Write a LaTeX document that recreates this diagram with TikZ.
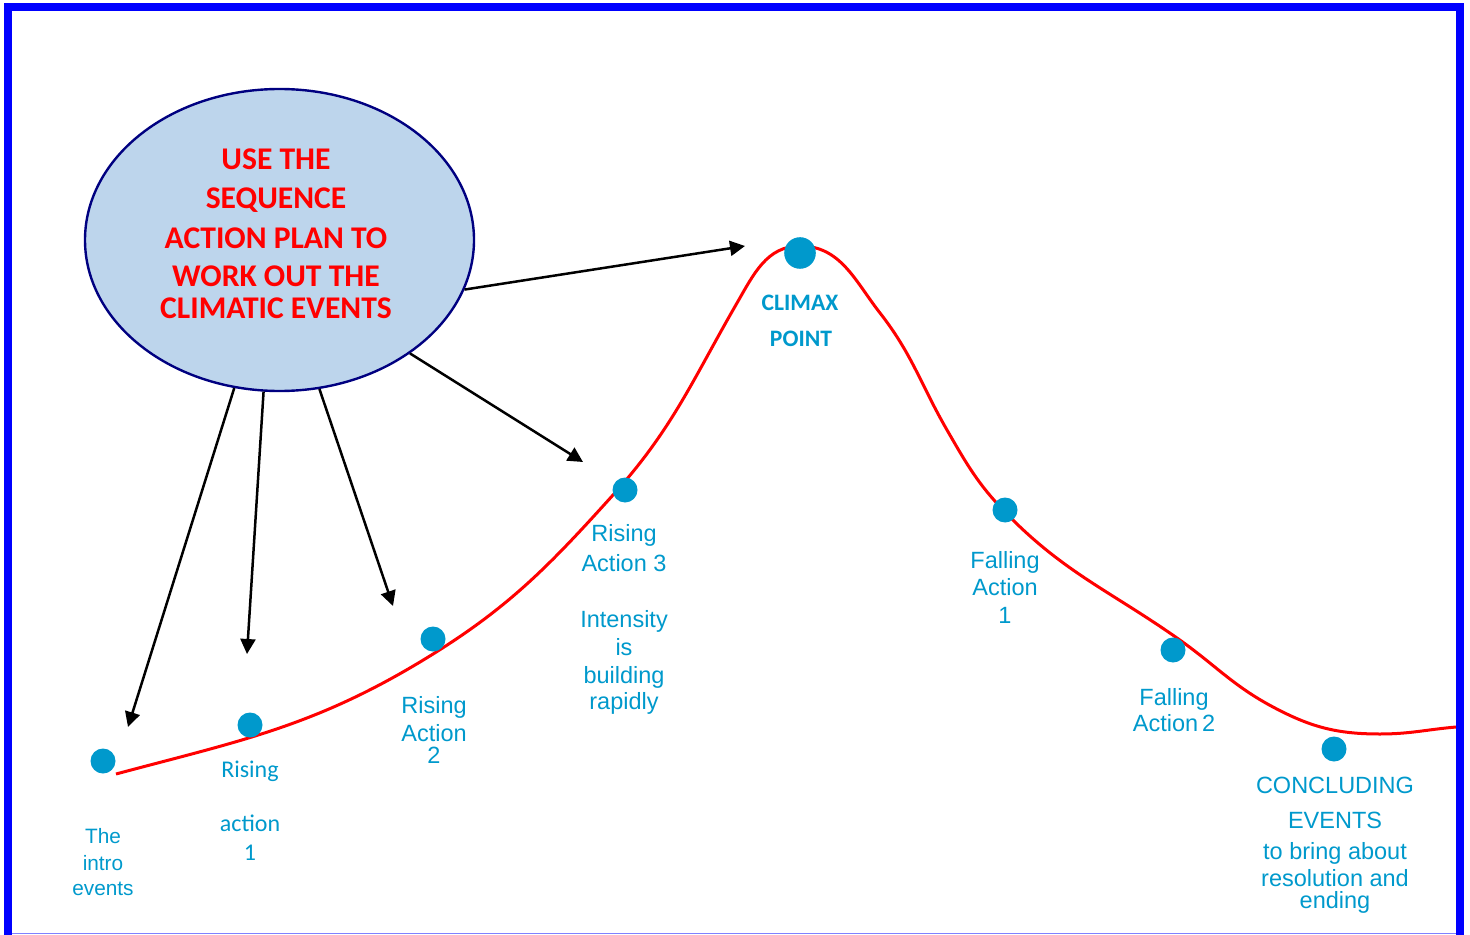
\documentclass[tikz,border=0pt]{standalone}
\usepackage{fontspec}
\setmainfont{Liberation Sans}
\newfontfamily\carlito{Carlito}
\usetikzlibrary{shapes.geometric,arrows.meta}
\definecolor{dotblue}{RGB}{0,153,204}
\definecolor{ellfill}{RGB}{189,213,236}
\definecolor{navyb}{RGB}{0,0,128}
\definecolor{lineblue}{RGB}{128,128,255}
\tikzset{
  dotnode/.style={circle, fill=dotblue, inner sep=0pt, minimum size=12.5pt},
  bigdot/.style={circle, fill=dotblue, inner sep=0pt, minimum size=15.8pt},
  lbl/.style={text=dotblue, font=\fontsize{11.75}{14}\selectfont, anchor=base, inner sep=0pt},
  smlbl/.style={text=dotblue, font=\fontsize{10.4}{12}\selectfont, anchor=base, inner sep=0pt},
  callbl/.style={text=dotblue, font=\carlito\fontsize{12}{14}\selectfont, anchor=base, inner sep=0pt},
  clbl/.style={text=dotblue, font=\carlito\bfseries\fontsize{11.8}{14}\selectfont, anchor=base, inner sep=0pt},
  redtxt/.style={text=red, font=\carlito\bfseries\fontsize{15.8}{18}\selectfont, anchor=base, inner sep=0pt},
  arr/.style={draw=black, line width=1.25pt, -{Triangle[length=7.5pt,width=7.5pt]}},
}
\begin{document}
\begin{tikzpicture}[x=0.5pt,y=-0.5pt]
\useasboundingbox (0,0) rectangle (1470,935);

% ellipse
\node[ellipse, draw=navyb, line width=1.2pt, fill=ellfill, minimum width=194.5pt, minimum height=151pt, inner sep=0pt] (E) at (279.5,240) {};
\node[redtxt] (r1) at (276,170) {USE THE};
\node[redtxt] (r2) at (276,209) {SEQUENCE};
\node[redtxt] (r3) at (276,249) {ACTION PLAN TO};
\node[redtxt] (r4) at (276,287) {WORK OUT THE};
\node[redtxt] (r5) at (276,319) {CLIMATIC EVENTS};

% red curve
\draw[red, line width=1.5pt]
  (116,774) to[out=15, in=211] (420,662)
  to[out=31, in=228] (613,495)
  to[out=48, in=240] (737,303)
  to[out=60, in=180] (800,246)
  to[out=0, in=128] (880,313)
  to[out=-52, in=120] (947,430)
  to[out=-60, in=134] (1005,512)
  to[out=-46, in=145] (1177,638)
  to[out=-35, in=152] (1273,707)
  to[out=-28, in=180] (1380,734)
  to[out=0, in=185] (1456,727);

% dots
\node[dotnode] (d1) at (103,761) {};
\node[dotnode] (d2) at (250,725) {};
\node[dotnode] (d3) at (433,639) {};
\node[dotnode] (d4) at (625,490) {};
\node[bigdot]  (d5) at (800,253) {};
\node[dotnode] (d6) at (1005,510) {};
\node[dotnode] (d7) at (1173,650) {};
\node[dotnode] (d8) at (1334,749) {};

% labels
\node[smlbl] (l1a) at (103,843) {The};
\node[smlbl] (l1b) at (103,870) {intro};
\node[smlbl] (l1c) at (103,895) {events};

\node[callbl] (l2a) at (250,777) {Rising};
\node[callbl] (l2b) at (250,831) {action};
\node[callbl] (l2c) at (250,860) {1};

\node[lbl] (l3a) at (434,713) {Rising};
\node[lbl] (l3b) at (434,741) {Action};
\node[lbl] (l3c) at (434,763) {2};

\node[lbl] (l4a) at (624,541) {Rising};
\node[lbl] (l4b) at (624,571) {Action 3};
\node[lbl] (l4c) at (624,627) {Intensity};
\node[lbl] (l4d) at (624,655) {is};
\node[lbl] (l4e) at (624,683) {building};
\node[lbl] (l4f) at (624,709) {rapidly};

\node[clbl] (l5a) at (800,311) {CLIMAX};
\node[clbl] (l5b) at (801,346) {POINT};

\node[lbl] (l6a) at (1005,568) {Falling};
\node[lbl] (l6b) at (1005,595) {Action};
\node[lbl] (l6c) at (1005,623) {1};

\node[lbl] (l7a) at (1174,705) {Falling};
\node[lbl] (l7b) at (1174,731) {Action\,2};

\node[lbl] (l8a) at (1335,793) {CONCLUDING};
\node[lbl] (l8b) at (1335,828) {EVENTS};
\node[lbl] (l8c) at (1335,859) {to bring about};
\node[lbl] (l8d) at (1335,886) {resolution and};
\node[lbl] (l8e) at (1335,908) {ending};

% arrows
\coordinate (a1) at (128,727);
\coordinate (a2) at (247,654);
\coordinate (a3) at (393,606);
\coordinate (a4) at (583,462);
\coordinate (a5) at (745,246);
\draw[arr] (E.-107.4) -- (a1);
\draw[arr] (E.-96.6) -- (a2);
\draw[arr] (E.-75.4) -- (a3);
\draw[arr] (E.-41.1) -- (a4);
\draw[arr] (E.-15.5) -- (a5);

% frame
\draw[lineblue, line width=0.6pt] (12,933.5) -- (1456,933.5);
\draw[blue, line width=4pt, miter limit=10] (8,935) -- (8,7) -- (1459.5,7) -- (1459.5,935);
\end{tikzpicture}
\end{document}
